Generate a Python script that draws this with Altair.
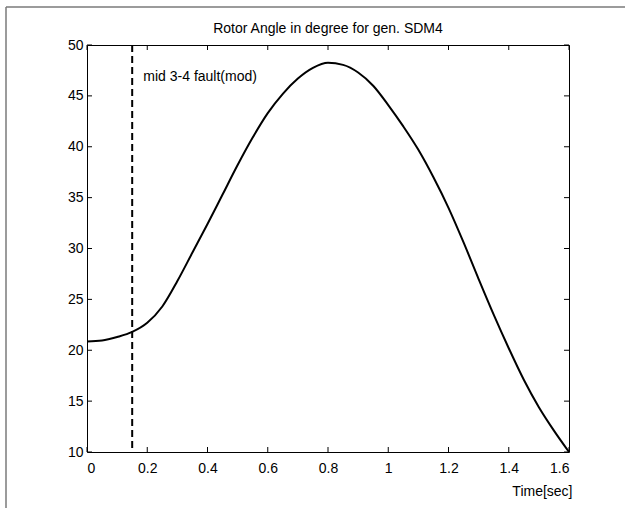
import altair as alt
import pandas as pd

# ---- data ----
time_s = [0.0, 0.05, 0.1, 0.15, 0.2, 0.25, 0.3, 0.35, 0.4, 0.45, 0.5, 0.55, 0.6,
          0.65, 0.7, 0.75, 0.8, 0.85, 0.9, 0.95, 1.0, 1.05, 1.1, 1.15, 1.2, 1.25,
          1.3, 1.35, 1.4, 1.45, 1.5, 1.55, 1.6]
rotor_angle = [20.85, 20.95, 21.3, 21.8, 22.7, 24.3, 26.8, 29.6, 32.4, 35.3, 38.2,
               40.9, 43.3, 45.2, 46.7, 47.75, 48.25, 48.05, 47.3, 46.0, 44.1, 42.0,
               39.7, 37.0, 34.0, 30.6, 27.0, 23.5, 20.2, 17.1, 14.4, 12.1, 10.0]
fault_time = [0.15]
note_x = [0.187]
note_y = [46.85]
note_text = ["mid 3-4 fault(mod)"]
title_text = ["Rotor Angle in degree for gen. SDM4"]
x_ticks = [0, 0.2, 0.4, 0.6, 0.8, 1, 1.2, 1.4, 1.6]
y_ticks = [10, 15, 20, 25, 30, 35, 40, 45, 50]

FONT = "Liberation Sans"
W, H = 482, 407

xs = alt.Scale(domain=[0, 1.6], nice=False, zero=False)
ys = alt.Scale(domain=[10, 50], nice=False, zero=False)
x_axis = alt.Axis(values=x_ticks, format="~g", labelPadding=9, title="Time[sec]",
                  titleX=W + 3, titleY=43, titleAlign="right", titleAnchor="end",
                  titleBaseline="alphabetic", titleFont=FONT, titleFontSize=14,
                  titleFontWeight="normal", titleColor="black")
y_axis = alt.Axis(values=y_ticks, format="~g", labelPadding=4, title=None)

curve_df = pd.DataFrame({"t": time_s, "angle": rotor_angle})

curve = alt.Chart(curve_df).mark_line(color="black", strokeWidth=2, interpolate="monotone").encode(
    x=alt.X("t:Q", scale=xs, axis=x_axis),
    y=alt.Y("angle:Q", scale=ys, axis=y_axis),
)

fault = alt.Chart(pd.DataFrame({"t": fault_time})).mark_rule(
    color="black", strokeWidth=2, strokeDash=[7, 4]
).encode(x=alt.X("t:Q", scale=xs, axis=x_axis))

note = alt.Chart(pd.DataFrame({"t": note_x, "angle": note_y, "label": note_text})).mark_text(
    align="left", baseline="middle", font=FONT, fontSize=14, color="black"
).encode(
    x=alt.X("t:Q", scale=xs, axis=x_axis),
    y=alt.Y("angle:Q", scale=ys, axis=y_axis),
    text="label:N",
)

title = alt.Chart(pd.DataFrame({"label": title_text})).mark_text(
    align="center", baseline="alphabetic", font=FONT, fontSize=14, color="black"
).encode(x=alt.value(W / 2), y=alt.value(-12), text="label:N")

xt_df = pd.DataFrame({"t": x_ticks})
yt_df = pd.DataFrame({"angle": y_ticks})
tick_style = dict(color="black", strokeWidth=1)
x_ticks_bottom = alt.Chart(xt_df).mark_rule(**tick_style).encode(
    x=alt.X("t:Q", scale=xs, axis=x_axis), y=alt.value(H), y2=alt.value(H - 5))
x_ticks_top = alt.Chart(xt_df).mark_rule(**tick_style).encode(
    x=alt.X("t:Q", scale=xs, axis=x_axis), y=alt.value(0), y2=alt.value(5))
y_ticks_left = alt.Chart(yt_df).mark_rule(**tick_style).encode(
    y=alt.Y("angle:Q", scale=ys, axis=y_axis), x=alt.value(0), x2=alt.value(5))
y_ticks_right = alt.Chart(yt_df).mark_rule(**tick_style).encode(
    y=alt.Y("angle:Q", scale=ys, axis=y_axis), x=alt.value(W - 5), x2=alt.value(W))

one = pd.DataFrame({"k": [0]})
border_style = dict(color="#7a7a7a", strokeWidth=1.5)
border_top = alt.Chart(one).mark_rule(**border_style).encode(
    x=alt.value(-81), x2=alt.value(625 - 87), y=alt.value(-38))
border_left = alt.Chart(one).mark_rule(**border_style).encode(
    x=alt.value(-81), y=alt.value(-38), y2=alt.value(508 - 45))

chart = alt.layer(
    border_top, border_left, x_ticks_bottom, x_ticks_top, y_ticks_left, y_ticks_right,
    fault, curve, note, title,
).properties(
    width=W,
    height=H,
    autosize=alt.AutoSizeParams(type="none"),
    padding={"left": 87, "top": 45, "right": 56, "bottom": 56},
    background="white",
).configure_view(
    stroke="black", strokeWidth=1
).configure_axis(
    labelFont=FONT, labelFontSize=14, labelColor="black", ticks=False, tickSize=0,
    domain=False, grid=False,
)

chart.save("out.html", embed_options={"renderer": "svg", "actions": False})
